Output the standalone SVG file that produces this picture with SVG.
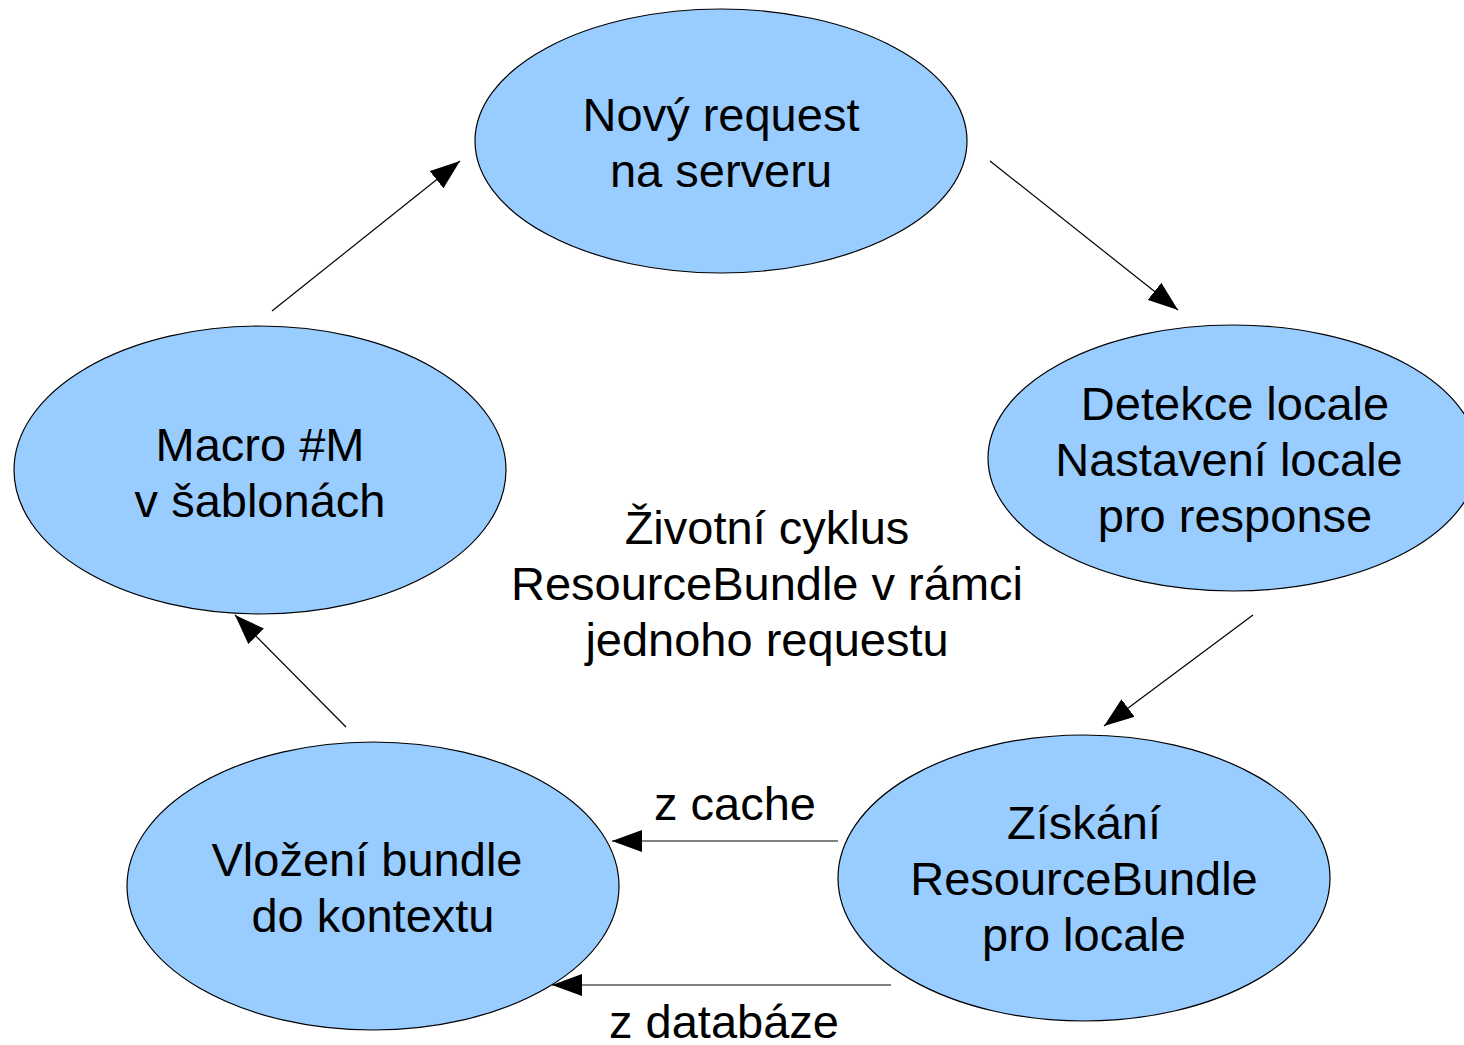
<svg xmlns="http://www.w3.org/2000/svg" width="1464" height="1045" viewBox="0 0 1464 1045">
<defs>
<style>
.node ellipse{fill:#99ccff;stroke:#000;stroke-width:1.2}
text{font-family:"Liberation Sans",Arial,sans-serif;font-size:47px;fill:#000;text-anchor:middle}
.edge{stroke:#000;stroke-width:1.2;fill:none;marker-end:url(#ah)}
</style>
<marker id="ah" viewBox="0 0 30 22" refX="30" refY="11" markerWidth="30" markerHeight="22" markerUnits="userSpaceOnUse" orient="auto">
<path d="M0,0 L30,11 L0,22 Z" fill="#000"/>
</marker>
</defs>
<rect width="1464" height="1045" fill="#fff"/>
<g id="n-request" class="node">
<ellipse cx="721" cy="141" rx="246" ry="132"/>
<text x="721" y="131">Nový request</text>
<text x="721" y="187">na serveru</text>
</g>
<g id="n-detekce" class="node">
<ellipse cx="1233" cy="458" rx="245" ry="133"/>
<text x="1235" y="420">Detekce locale</text>
<text x="1229" y="476">Nastavení locale</text>
<text x="1235" y="532">pro response</text>
</g>
<g id="n-ziskani" class="node">
<ellipse cx="1084" cy="878" rx="246" ry="143"/>
<text x="1084" y="839">Získání</text>
<text x="1084" y="895">ResourceBundle</text>
<text x="1084" y="951">pro locale</text>
</g>
<g id="n-vlozeni" class="node">
<ellipse cx="373" cy="886" rx="246" ry="144"/>
<text x="367" y="876">Vložení bundle</text>
<text x="373" y="932">do kontextu</text>
</g>
<g id="n-macro" class="node">
<ellipse cx="260" cy="470" rx="246" ry="144"/>
<text x="260" y="461">Macro #M</text>
<text x="260" y="517">v šablonách</text>
</g>
<g id="title">
<text x="767" y="544">Životní cyklus</text>
<text x="767" y="600">ResourceBundle v rámci</text>
<text x="767" y="656">jednoho requestu</text>
</g>
<g id="connectors">
<line class="edge" x1="990" y1="161" x2="1178" y2="310"/>
<line class="edge" x1="1253" y1="615" x2="1104" y2="726"/>
<line class="edge" x1="838" y1="841" x2="612" y2="841"/>
<line class="edge" x1="891" y1="985" x2="552" y2="985"/>
<line class="edge" x1="346" y1="727" x2="235" y2="615"/>
<line class="edge" x1="272" y1="311" x2="460" y2="161"/>
<text x="735" y="820">z cache</text>
<text x="724" y="1038">z databáze</text>
</g>
</svg>
